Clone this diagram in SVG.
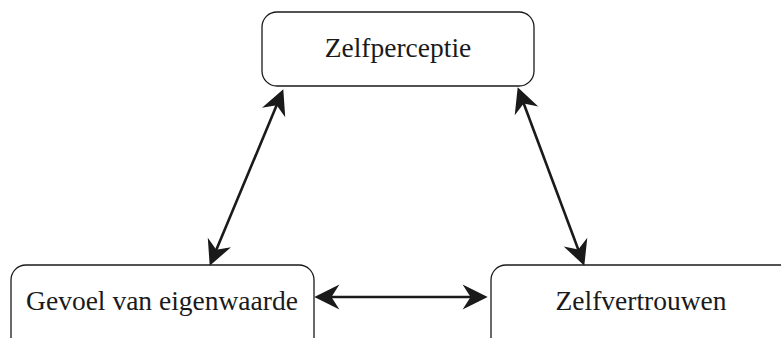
<svg xmlns="http://www.w3.org/2000/svg" width="781" height="338" viewBox="0 0 781 338">
<style>
.box{fill:#fff;stroke:#1a1a1a;stroke-width:1.3}
.lbl{font-family:"Liberation Serif","Times New Roman",serif;font-size:27.5px;fill:#1a1a1a;text-anchor:middle}
.con{stroke:#1a1a1a;stroke-width:2.6;fill:none}
</style>
<defs>
<marker id="ah" markerUnits="userSpaceOnUse" markerWidth="40" markerHeight="40" viewBox="-25 -15 35 30" refX="0" refY="0" orient="auto-start-reverse">
<path d="M5,0 L-17,-11 L-10,0 L-17,11 Z" fill="#1a1a1a"/>
</marker>
</defs>
<rect width="781" height="338" fill="#fff"/>
<g id="zelfperceptie">
<rect class="box" x="262" y="12" width="272" height="74" rx="15"/>
<text class="lbl" x="398" y="57">Zelfperceptie</text>
</g>
<g id="gevoel">
<rect class="box" x="11" y="265" width="303" height="92" rx="15"/>
<text class="lbl" x="162" y="310">Gevoel van eigenwaarde</text>
</g>
<g id="zelfvertrouwen">
<rect class="box" x="491" y="265" width="310" height="92" rx="15"/>
<text class="lbl" x="641" y="310">Zelfvertrouwen</text>
</g>
<g id="connectors">
<line class="con" x1="281.1" y1="94.6" x2="211.9" y2="260.4" marker-start="url(#ah)" marker-end="url(#ah)"/>
<line class="con" x1="519.7" y1="92.7" x2="582.3" y2="260.3" marker-start="url(#ah)" marker-end="url(#ah)"/>
<line class="con" x1="320" y1="297" x2="482" y2="297" marker-start="url(#ah)" marker-end="url(#ah)"/>
</g>
</svg>
